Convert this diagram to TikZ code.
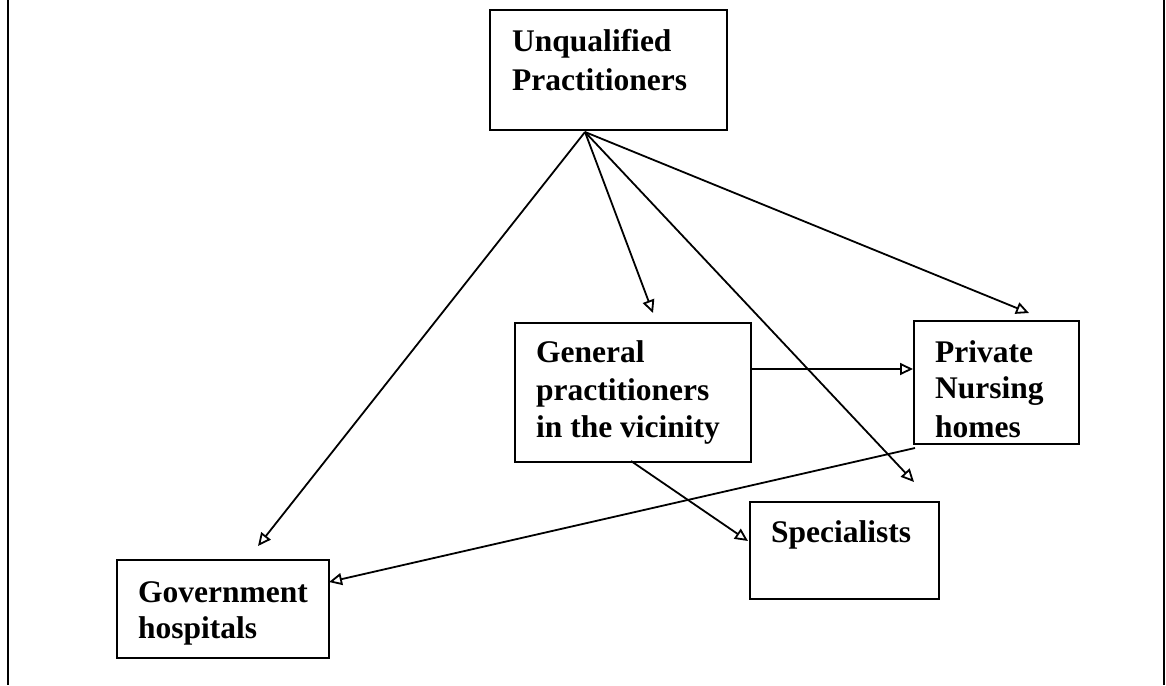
\documentclass[tikz,border=0pt]{standalone}
\usepackage{fontspec}
\setmainfont{Liberation Serif}
\usetikzlibrary{arrows.meta}
\begin{document}
\begin{tikzpicture}[x=1pt,y=-1pt,
  box/.style={draw,line width=2.2pt,inner sep=0pt},
  lbl/.style={anchor=base west,inner sep=0pt,font=\fontsize{31.5}{37}\selectfont\bfseries},
  arr/.style={line width=1.8pt,-{Triangle[open,length=13pt,width=12pt,line width=1.8pt]}},
  ln/.style={line width=1.8pt}]
\useasboundingbox (0,0) rectangle (1166,685);
\draw[line width=2.4pt] (8,0) -- (8,685);
\draw[line width=2.4pt] (1164,0) -- (1164,685);
% boxes
\node[box,minimum width=237pt,minimum height=120pt,anchor=north west] (uq) at (489,9) {};
\node[box,minimum width=236pt,minimum height=139pt,anchor=north west] (gp) at (514,322) {};
\node[box,minimum width=165pt,minimum height=123pt,anchor=north west] (pn) at (913,320) {};
\node[box,minimum width=212pt,minimum height=98pt,anchor=north west] (gh) at (116,559) {};
\node[box,minimum width=189pt,minimum height=97pt,anchor=north west] (sp) at (749,501) {};
% labels
\node[lbl] (uq1) at (512,52) {Unqualified};
\node[lbl] (uq2) at (512,90) {Practitioners};
\node[lbl] (gp1) at (536,362) {General};
\node[lbl] (gp2) at (536,400) {practitioners};
\node[lbl] (gp3) at (536,437) {in the vicinity};
\node[lbl] (pn1) at (935,362) {Private};
\node[lbl] (pn2) at (935,398) {Nursing};
\node[lbl] (pn3) at (935,437) {homes};
\node[lbl] (gh1) at (138,602) {Government};
\node[lbl] (gh2) at (138,638) {hospitals};
\node[lbl] (sp1) at (771,542) {Specialists};
% connector coordinates
\coordinate (apex) at (585,132);
\coordinate (ghT) at (258,546);
\coordinate (gpT) at (653,313);
\coordinate (pnT) at (1029,313);
\coordinate (free) at (914,482);
\coordinate (gpE) at (750,369);
\coordinate (pnW) at (913,369);
\coordinate (gpS) at (631,461);
\coordinate (spW) at (748,541);
\coordinate (pnSW) at (915,448);
\coordinate (ghE) at (329,582);
% connectors
\draw[arr] (apex) -- (ghT);
\draw[arr] (apex) -- (gpT);
\draw[arr] (apex) -- (pnT);
\draw[arr] (apex) -- (free);
\draw[arr] (gpE) -- (pnW);
\draw[arr] (gpS) -- (spW);
\draw[arr] (pnSW) -- (ghE);
\end{tikzpicture}
\end{document}
